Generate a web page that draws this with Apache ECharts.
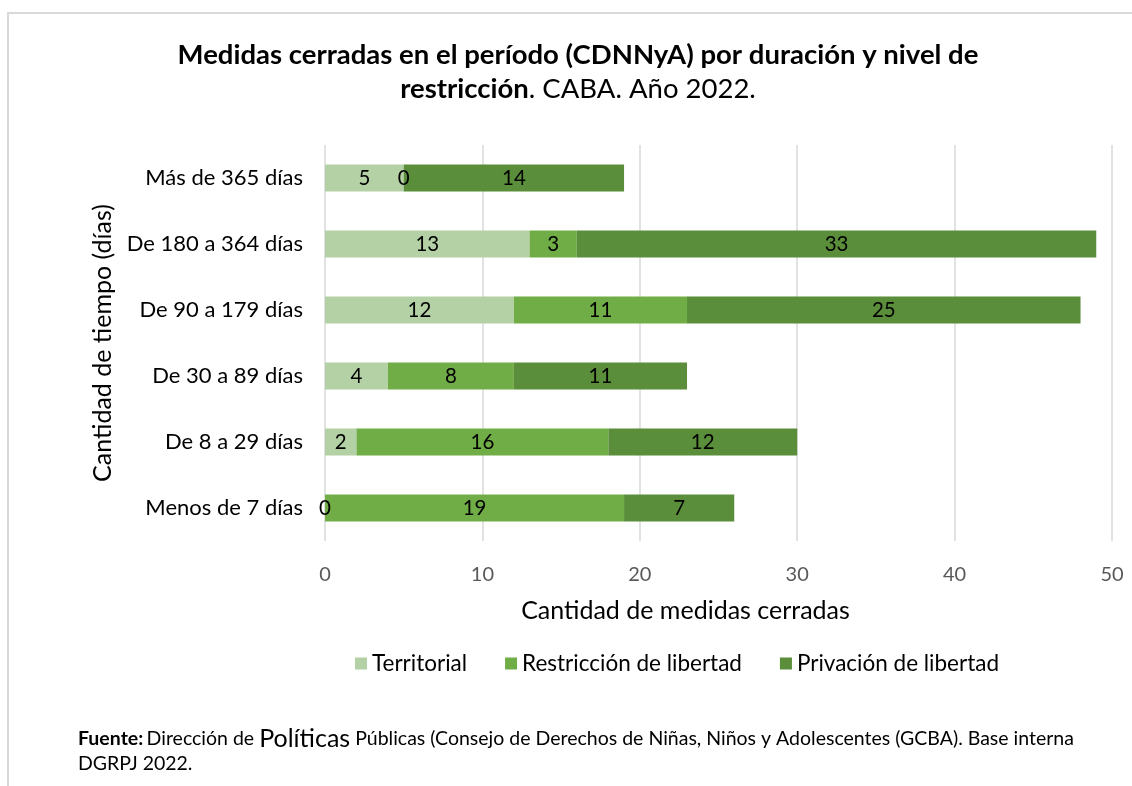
<!DOCTYPE html>
<html><head><meta charset="utf-8">
<script src="https://cdn.jsdelivr.net/npm/echarts@6/dist/echarts.min.js"></script>
<style>html,body{margin:0;padding:0;background:#fff}#c{width:1132px;height:786px}</style>
</head><body><div id="c"></div>
<script>
const categories = ['Menos de 7 días','De 8 a 29 días','De 30 a 89 días','De 90 a 179 días','De 180 a 364 días','Más de 365 días'];
const territorial = [0, 2, 4, 12, 13, 5];
const restriccion = [19, 16, 8, 11, 3, 0];
const privacion = [7, 12, 11, 25, 33, 14];
const seriesNames = ['Territorial','Restricción de libertad','Privación de libertad'];
const colors = ['#b4d1a5','#70ad47','#5a8e3a'];
const xTicks = [0, 10, 20, 30, 40, 50];

const FONT = 'Lato, "Open Sans", sans-serif';
const chart = echarts.init(document.getElementById('c'), null, {renderer:'canvas'});
const mk = (name, data, i) => ({
  name, type:'bar', stack:'t', data, barWidth:27,
  itemStyle:{color:colors[i]},
  label:{show:true, position:'inside', color:'#000', fontSize:20.5, fontFamily:FONT},
  emphasis:{disabled:true}
});
chart.setOption({
  animation:false,
  textStyle:{fontFamily:FONT},
  graphic:[
    {type:'polyline', shape:{points:[[8,2000],[8,13],[1140,13]]}, style:{stroke:'#d9d9d9', lineWidth:2, fill:null}},
    {type:'text', x:578, y:38, style:{
      rich:{b:{fontWeight:'bold', fontSize:27.5, fontFamily:FONT, fill:'#000', lineHeight:34, align:'center'},
            n:{fontSize:27.5, fontFamily:FONT, fill:'#000', lineHeight:34, align:'center'}},
      text:'{b|Medidas cerradas en el período (CDNNyA) por duración y nivel de}\n{b|restricción}{n|. CABA. Año 2022.}',
      align:'center'}},
    {type:'text', left:78, top:726, style:{
      rich:{b:{fontWeight:'bold', fontSize:19.5, fontFamily:FONT, fill:'#000', lineHeight:25},
            n:{fontSize:19.5, fontFamily:FONT, fill:'#000', lineHeight:25},
            p:{fontSize:25, fontFamily:FONT, fill:'#000', lineHeight:25}},
      text:'{b|Fuente:} {n|Dirección de }{p|Políticas}{n| Públicas (Consejo de Derechos de Niñas, Niños y Adolescentes (GCBA). Base interna}\n{n|DGRPJ 2022.}'}}
  ],
  legend:{bottom:106, left:350, itemWidth:12, itemHeight:12, itemGap:38, icon:'rect',
    textStyle:{fontSize:22.5, color:'#000', fontFamily:FONT}, data:seriesNames},
  grid:{left:325, right:20, top:145, bottom:245, containLabel:false},
  xAxis:{type:'value', min:xTicks[0], max:xTicks[xTicks.length-1], interval:10,
    axisLine:{show:false}, axisTick:{show:false},
    axisLabel:{fontSize:20, color:'#595959', margin:24, fontFamily:FONT},
    splitLine:{lineStyle:{color:'#d9d9d9', width:1.5}},
    name:'Cantidad de medidas cerradas', nameLocation:'middle', nameGap:57,
    nameTextStyle:{fontSize:25, color:'#000', fontFamily:FONT, padding:[0,66,0,0]}},
  yAxis:{type:'category', data:categories,
    axisLine:{show:false}, axisTick:{show:false},
    axisLabel:{fontSize:22, color:'#000', margin:22, fontFamily:FONT},
    name:'Cantidad de tiempo (días)', nameLocation:'middle', nameGap:195, nameRotate:90,
    nameTextStyle:{fontSize:25, color:'#000', fontFamily:FONT}},
  series:[mk(seriesNames[0], territorial, 0), mk(seriesNames[1], restriccion, 1), mk(seriesNames[2], privacion, 2)]
});
</script></body></html>
